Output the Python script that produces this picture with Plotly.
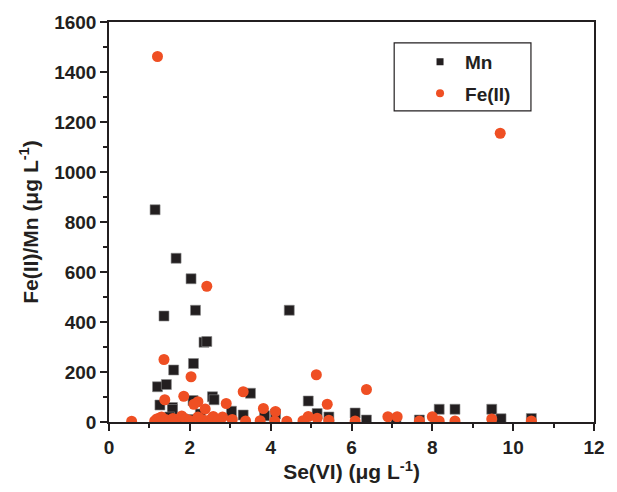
import plotly.graph_objects as go

# Mn series
mn_x = [1.14, 1.66, 2.03, 1.36, 2.14, 2.35, 2.42, 4.46, 2.09, 1.60, 1.20, 1.42,
        1.26, 1.57, 1.57, 2.08, 2.56, 2.60, 1.83, 2.26, 3.03, 3.32, 3.50, 3.85,
        4.12, 4.93, 5.15, 5.44, 6.09, 6.37, 7.10, 7.68, 8.17, 8.56, 9.47, 9.70,
        10.45, 1.50, 2.00]
mn_y = [849, 655, 573, 424, 447, 319, 322, 447, 234, 208, 141, 150,
        68, 58, 50, 86, 101, 89, 12, 32, 43, 28, 115, 25,
        32, 84, 34, 20, 36, 8, 12, 8, 51, 51, 51, 13,
        14, 20, 10]

# Fe(II) series
fe_x = [1.20, 9.68, 2.42, 1.36, 2.03, 5.13, 6.37, 3.32, 1.85, 1.38, 2.20, 2.10,
        2.90, 3.82, 2.38, 4.12, 5.40, 4.93, 6.90, 7.13, 8.00, 2.58, 2.81, 5.15,
        0.56, 1.13, 1.18, 1.25, 1.30, 1.40, 1.50, 1.58, 1.65, 1.80, 1.90, 2.00,
        2.20, 2.30, 2.45, 2.57, 2.70, 3.05, 3.38, 3.74, 4.10, 4.40, 4.80, 5.44,
        6.09, 7.68, 8.17, 8.56, 9.47, 10.45]
fe_y = [1462, 1155, 543, 250, 181, 189, 130, 121, 103, 89, 81, 71,
        74, 54, 52, 42, 71, 22, 21, 21, 21, 22, 20, 15,
        3, 4, 12, 16, 20, 10, 6, 14, 9, 24, 12, 6,
        20, 10, 6, 18, 5, 10, 4, 5, 4, 3, 5, 7,
        4, 4, 4, 4, 12, 4]

series_names = ["Mn", "Fe(II)"]

BLACK = "#231F20"
ORANGE = "#EF4F23"
FONT = "Liberation Sans, Arial, sans-serif"

fig = go.Figure()
fig.add_trace(go.Scatter(
    x=mn_x, y=mn_y, mode="markers", showlegend=False,
    marker=dict(symbol="square", size=10, color=BLACK,
                line=dict(width=0.6, color="#888888")),
))
fig.add_trace(go.Scatter(
    x=fe_x, y=fe_y, mode="markers", showlegend=False,
    marker=dict(symbol="circle", size=11, color=ORANGE, line=dict(width=0)),
))
# legend entries (small symbols as in the reference)
fig.add_trace(go.Scatter(
    x=[None], y=[None], mode="markers", name=series_names[0], legendgroup="a",
    marker=dict(symbol="square", size=7, color=BLACK),
))
fig.add_trace(go.Scatter(
    x=[None], y=[None], mode="markers", name=series_names[1], legendgroup="b",
    marker=dict(symbol="circle", size=8, color=ORANGE),
))

tickfont = dict(family=FONT, size=19, color=BLACK, weight="bold")
titlefont = dict(family=FONT, size=21, color=BLACK, weight="bold")

axis_common = dict(
    showline=True, linecolor=BLACK, linewidth=1.5, mirror=True,
    ticks="outside", ticklen=7, tickwidth=1.5, tickcolor=BLACK,
    showgrid=False, zeroline=False,
    tickfont=tickfont,
)

fig.update_layout(
    width=617, height=492,
    margin=dict(l=109, r=16, t=18, b=69),
    paper_bgcolor="white", plot_bgcolor="white",
    font=dict(family=FONT, color=BLACK),
    xaxis=dict(
        range=[0, 12], dtick=2, tick0=0,
        minor=dict(dtick=1, ticks="outside", ticklen=4, tickwidth=1.5, tickcolor=BLACK),
        title=dict(text="Se(VI) (μg L<sup>-1</sup>)", font=titlefont, standoff=8),
        **axis_common,
    ),
    yaxis=dict(
        range=[0, 1600], dtick=200, tick0=0,
        minor=dict(dtick=100, ticks="outside", ticklen=4, tickwidth=1.5, tickcolor=BLACK),
        title=dict(text="Fe(II)/Mn (μg L<sup>-1</sup>)", font=titlefont, standoff=10),
        **axis_common,
    ),
    legend=dict(
        x=0.631, y=0.948, xanchor="left", yanchor="top",
        borderwidth=0, bgcolor="rgba(0,0,0,0)",
        font=dict(family=FONT, size=19, color=BLACK, weight="bold"),
        tracegroupgap=4, itemwidth=40,
    ),
    shapes=[dict(
        type="rect", xref="paper", yref="paper",
        x0=0.588, x1=0.870, y0=0.778, y1=0.948,
        line=dict(color=BLACK, width=1.2), fillcolor="rgba(0,0,0,0)",
    )],
    showlegend=True,
)

fig.write_html("out.html")
